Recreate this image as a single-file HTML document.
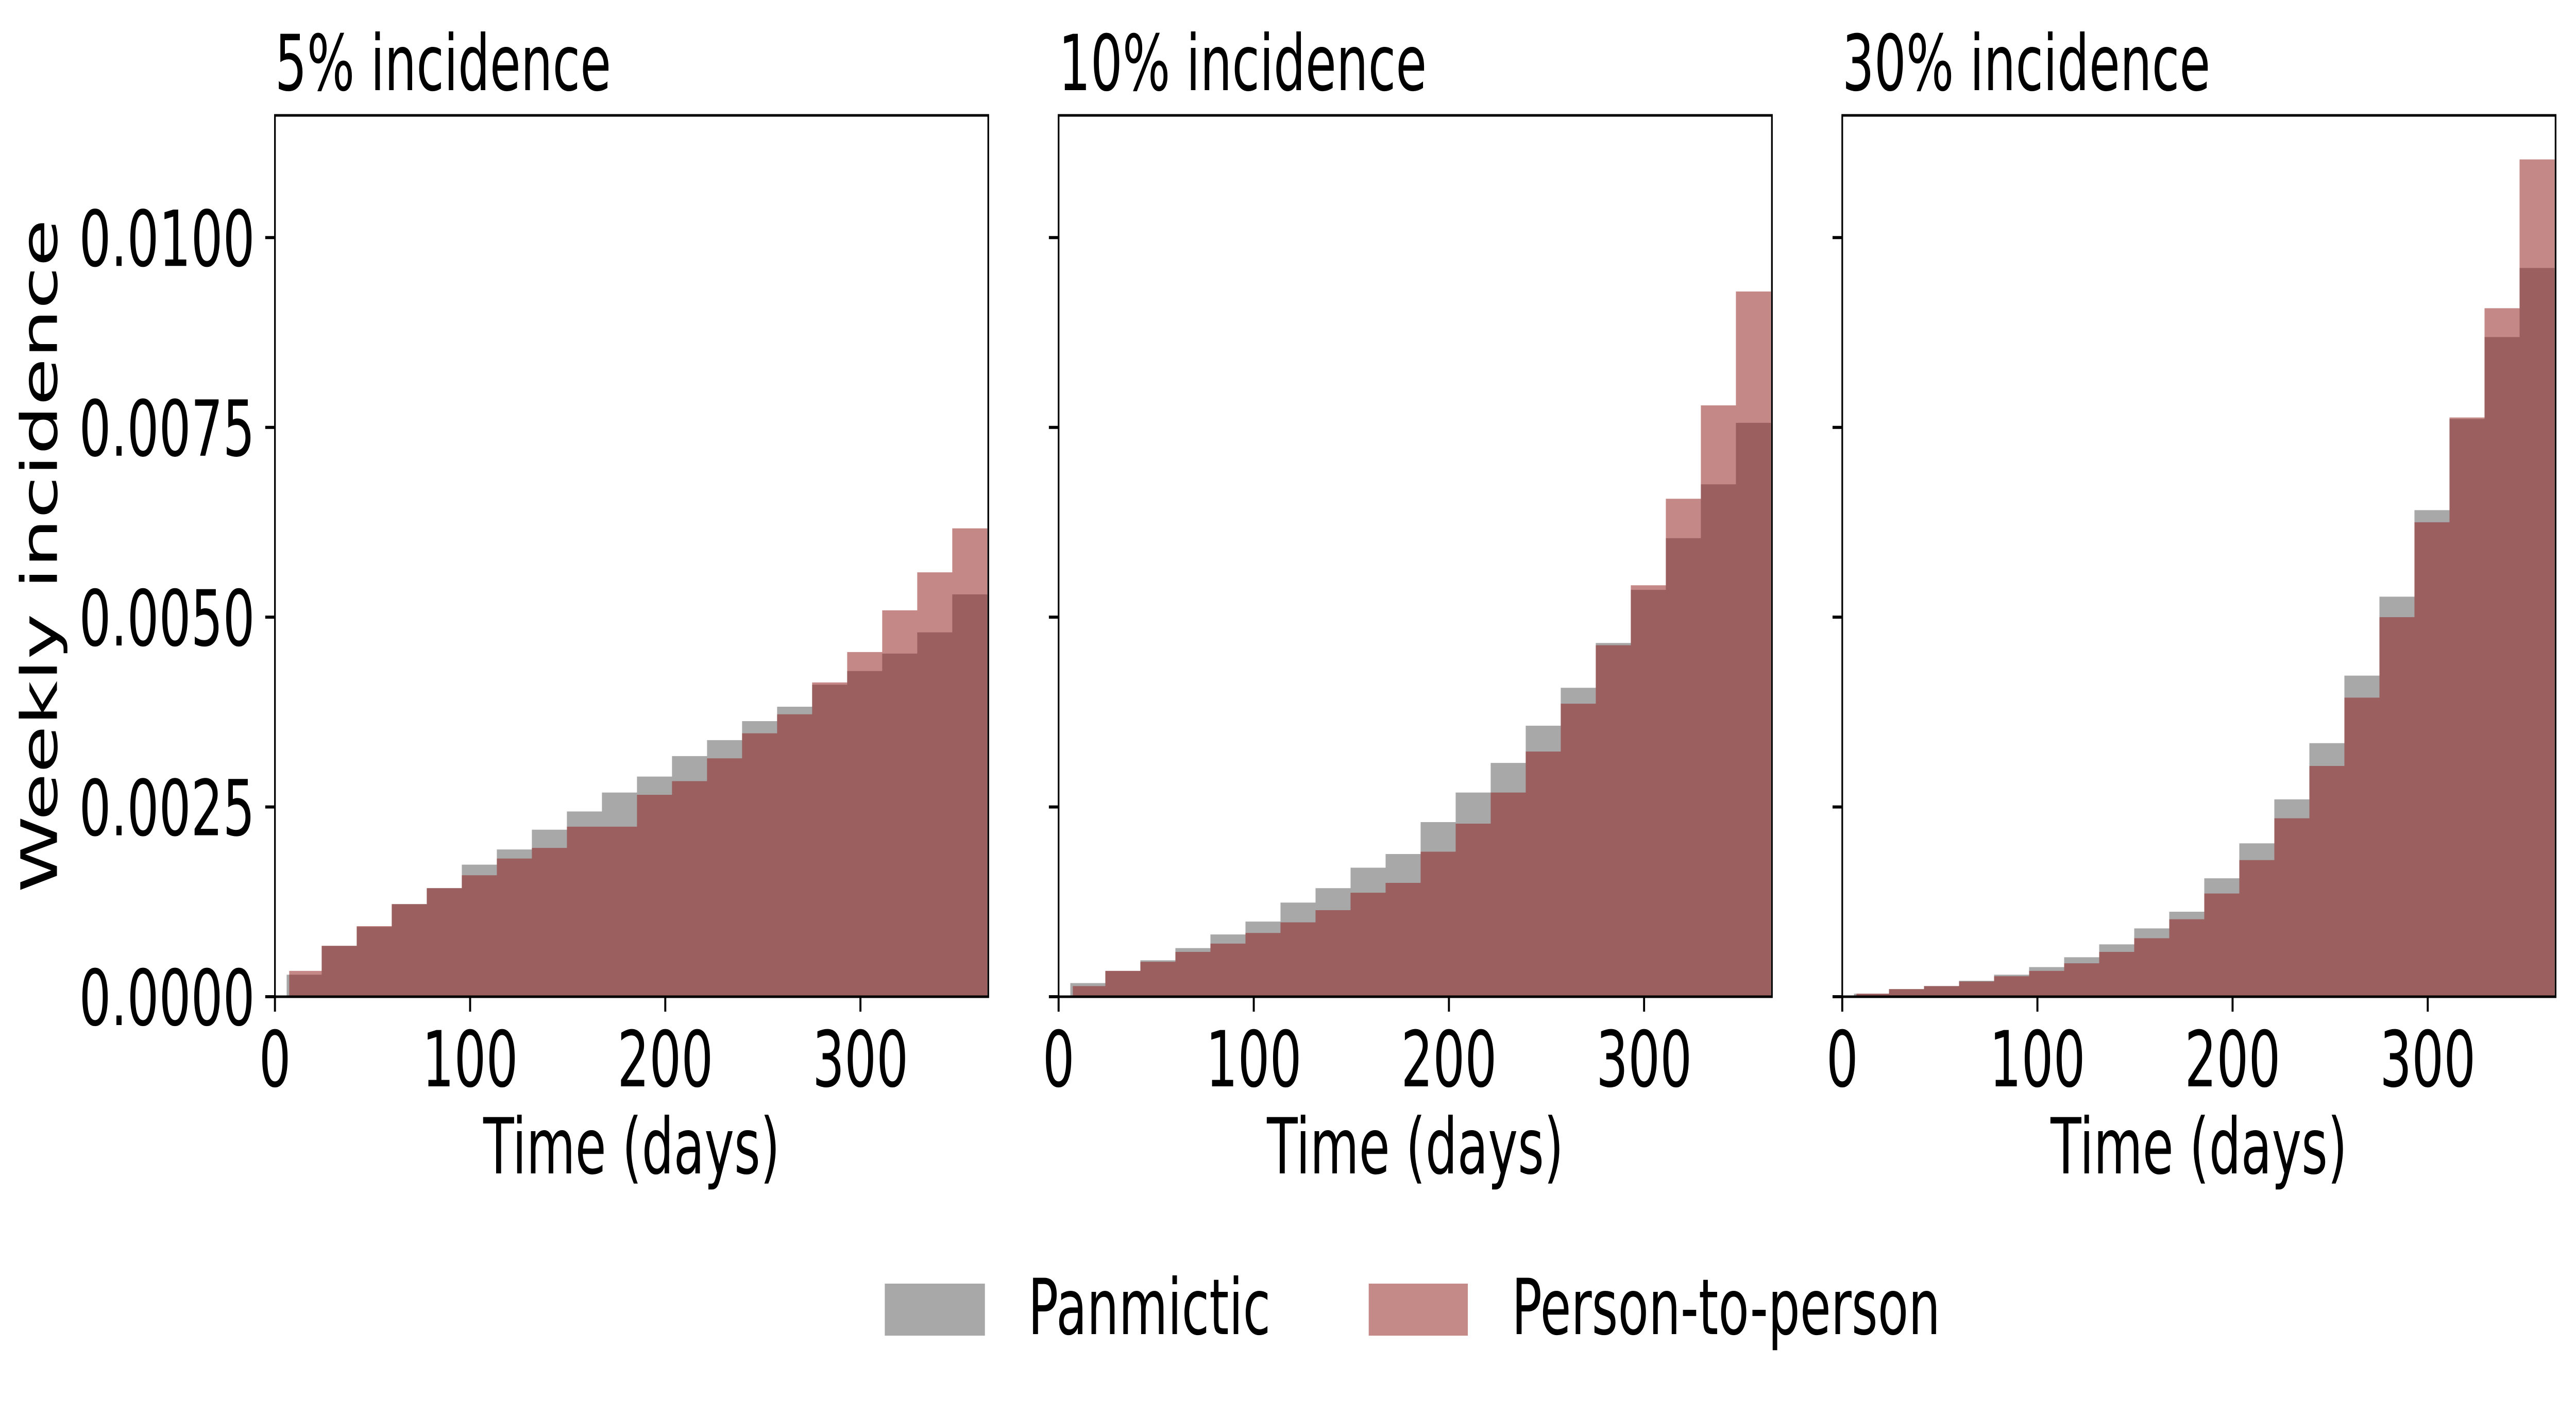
<!DOCTYPE html>
<html><head><meta charset="utf-8"><style>
html,body{margin:0;padding:0;background:#fff;width:100vw;height:100vh;overflow:hidden;}
svg{display:block;width:100vw;height:100vh;}
text{font-family:"DejaVu Sans","Liberation Sans",sans-serif;fill:#000;}
</style></head><body>
<svg id="chart" viewBox="0 0 7692 2749" preserveAspectRatio="none" xmlns="http://www.w3.org/2000/svg">
<rect x="0" y="0" width="7692" height="2749" fill="#fff"/>
<g id="plots"></g>
<g>
  <rect x="2642" y="2492" width="299" height="101" fill="#a8a8a9"/>
  <text x="3070" y="2590" font-size="150">Panmictic</text>
  <rect x="4087" y="2492" width="296" height="101" fill="#c48a88"/>
  <text x="4514" y="2590" font-size="150">Person-to-person</text>
</g>
<text transform="translate(170,1079) rotate(-90)" text-anchor="middle" font-size="150">Weekly incidence</text>
</svg>
<script>
const panelTitles = ["5% incidence", "10% incidence", "30% incidence"];
const xTicks = [0, 100, 200, 300];
const yTicks = [0, 0.0025, 0.005, 0.0075, 0.01];
const yTickLabels = ["0.0000", "0.0025", "0.0050", "0.0075", "0.0100"];
const binStart = 6;
const binWidth = 17.95;
const panmictic5 = [0.00029,0.00067,0.00092,0.00122,0.00143,0.00174,0.00194,0.0022,0.00244,0.00269,0.0029,0.00317,0.00338,0.00363,0.00382,0.00411,0.00429,0.00452,0.0048,0.0053];
const person5 = [0.00034,0.00067,0.00093,0.00122,0.00143,0.0016,0.00182,0.00196,0.00224,0.00224,0.00266,0.00284,0.00314,0.00347,0.00372,0.00414,0.00454,0.00509,0.00559,0.00617];
const panmictic10 = [0.00018,0.00034,0.00048,0.00064,0.00082,0.00099,0.00124,0.00143,0.0017,0.00188,0.0023,0.00269,0.00308,0.00357,0.00407,0.00466,0.00536,0.00604,0.00675,0.00756];
const person10 = [0.00014,0.00034,0.00046,0.00059,0.0007,0.00084,0.00098,0.00114,0.00137,0.0015,0.00191,0.00228,0.00269,0.00323,0.00386,0.00463,0.00542,0.00656,0.00779,0.00929];
const panmictic30 = [0.00004,0.0001,0.00014,0.00021,0.00029,0.00039,0.00052,0.00069,0.0009,0.00112,0.00156,0.00202,0.0026,0.00334,0.00423,0.00527,0.00641,0.00761,0.00869,0.0096];
const person30 = [0.00004,0.0001,0.00014,0.0002,0.00027,0.00034,0.00044,0.00059,0.00077,0.00102,0.00136,0.0018,0.00235,0.00304,0.00394,0.005,0.00625,0.00763,0.00907,0.01103];

const panelsGray = [panmictic5, panmictic10, panmictic30];
const panelsRed = [person5, person10, person30];
const lefts = [821, 3161, 5501];
const PW = 2130, TOP = 224, BOT = 1935;
const XMAX = 365.5, YMAX = 0.01161;
const NS = "http://www.w3.org/2000/svg";
const root = document.getElementById('plots');
function mk(tag, attrs, parent){const e=document.createElementNS(NS,tag);for(const k in attrs)e.setAttribute(k,attrs[k]);parent.appendChild(e);return e;}

function stepPath(vals, xs, ys, firstStart) {
  let d = 'M' + xs(firstStart) + ',' + BOT;
  vals.forEach((v, i) => {
    const s = i === 0 ? firstStart : binStart + i*binWidth;
    const e = Math.min(binStart + (i+1)*binWidth, XMAX);
    d += ' L' + xs(s) + ',' + ys(v) + ' L' + xs(e) + ',' + ys(v);
  });
  d += ' L' + xs(Math.min(binStart + vals.length*binWidth, XMAX)) + ',' + BOT + ' Z';
  return d;
}

for (let p = 0; p < 3; p++) {
  const L = lefts[p];
  const xs = v => L + v / XMAX * PW;
  const ys = v => BOT - v / YMAX * (BOT - TOP);
  const g = mk('g', {}, root);
  
  
  const gp = mk('path', {d: stepPath(panelsGray[p], xs, ys, binStart), fill:'#a8a8a9'}, g);
  
  
  const rp = mk('path', {d: stepPath(panelsRed[p], xs, ys, binStart + 1.3), fill:'rgb(141,29,25)', 'fill-opacity':0.52}, g);
  
  
  const fr = mk('rect', {x:L, y:TOP, width:PW, height:BOT-TOP, fill:'none', stroke:'#000', 'stroke-width':5}, g);
  
  
  xTicks.forEach(t => {
    mk('line', {x1:xs(t), x2:xs(t), y1:BOT, y2:BOT+29, stroke:'#000', 'stroke-width':6}, g);
    const tx = mk('text', {x:xs(t), y:2109, 'text-anchor':'middle', 'font-size':150}, g);
    tx.textContent = t;
    
    
  });
  yTicks.forEach((t, i) => {
    mk('line', {x1:L-29, x2:L, y1:ys(t), y2:ys(t), stroke:'#000', 'stroke-width':6}, g);
    if (p === 0) {
      const tx = mk('text', {x:L-60, y:ys(t)+55, 'text-anchor':'end', 'font-size':150}, g);
      tx.textContent = yTickLabels[i];
      
      
    }
  });
  const xl = mk('text', {x:L + PW/2, y:2278, 'text-anchor':'middle', 'font-size':150}, g);
  xl.textContent = 'Time (days)';
  
  
  const ti = mk('text', {x:L, y:175, 'font-size':150}, g);
  ti.textContent = panelTitles[p];
  
  
}
</script>
</body></html>
